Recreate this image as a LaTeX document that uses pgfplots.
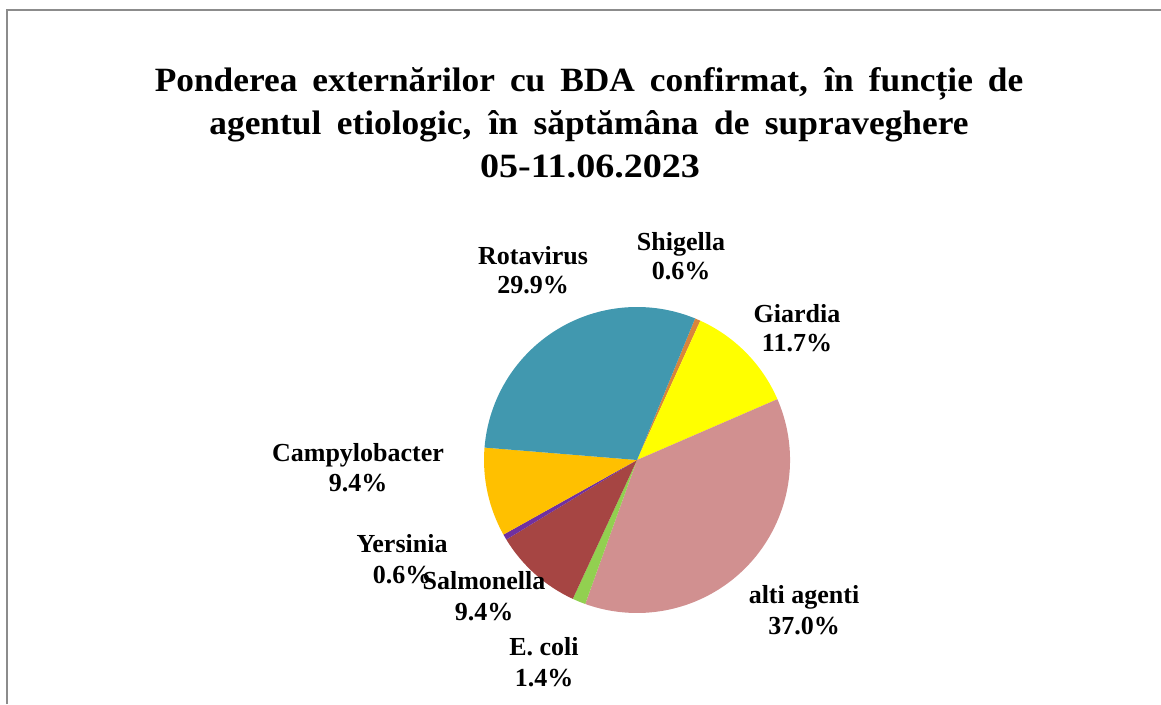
\documentclass[border=0pt]{standalone}
\usepackage{pgfplots}
\pgfplotsset{compat=1.18}
\usepackage{pgfplotstable}
\usepackage{graphicx}
\usepackage{fontspec}
\setmainfont{Liberation Serif}

\definecolor{cRota}{RGB}{65,152,175}
\definecolor{cShig}{RGB}{217,133,59}
\definecolor{cGiar}{RGB}{255,255,0}
\definecolor{cAlti}{RGB}{209,144,144}
\definecolor{cEcoli}{RGB}{146,208,80}
\definecolor{cSalm}{RGB}{166,69,67}
\definecolor{cYers}{RGB}{112,48,160}
\definecolor{cCamp}{RGB}{255,192,0}
\definecolor{cBorder}{RGB}{140,140,140}

\tikzset{
  lab/.style={font=\fontsize{26}{30}\selectfont\bfseries,anchor=base,inner sep=0pt},
  ttl/.style={font=\fontsize{34}{43}\selectfont\bfseries,anchor=base,inner sep=0pt}}

% share of each agent (%), clockwise from the first slice
\pgfplotstableread{
agent value col
Shigella 0.6 cShig
Giardia 11.7 cGiar
alti 37.0 cAlti
Ecoli 1.4 cEcoli
Salmonella 9.4 cSalm
Yersinia 0.6 cYers
Campylobacter 9.4 cCamp
Rotavirus 29.9 cRota
}\piedata

\begin{document}
\begin{tikzpicture}
\begin{axis}[width=1161pt,height=704pt,scale only axis,
  xmin=0,xmax=1161,ymin=0,ymax=704,hide axis,clip=false,anchor=south west,at={(0,0)}]
\pgfplotsextra{%
  \xdef\curang{67.7}%
  \pgfplotsforeachungrouped \i in {0,...,7}{%
    \pgfplotstablegetelem{\i}{value}\of\piedata\let\slval\pgfplotsretval
    \pgfplotstablegetelem{\i}{col}\of\piedata\let\slcol\pgfplotsretval
    \pgfmathsetmacro\nextang{\curang-3.6*\slval}%
    \fill[fill=\slcol] (axis cs:637,244) -- ++(\curang:153pt)
      arc[start angle=\curang,end angle=\nextang,radius=153pt] -- cycle;
    \xdef\curang{\nextang}%
  }%
}
\draw[cBorder,line width=1.5pt] (axis cs:7,0) -- (axis cs:7,694) -- (axis cs:1161,694);

% title
\node[ttl] at (axis cs:589,612) {\scalebox{1.04}[1]{\makebox[835pt][s]{Ponderea externărilor cu BDA confirmat, în funcție de}}};
\node[ttl] at (axis cs:589,569) {\scalebox{1.04}[1]{\makebox[730pt][s]{agentul etiologic, în săptămâna de supraveghere}}};
\node[ttl] at (axis cs:590,526) {\resizebox{220pt}{\height}{05-11.06.2023}};

% labels
\node[lab] at (axis cs:533,439) {Rotavirus};
\node[lab] at (axis cs:533,410) {29.9\%};
\node[lab] at (axis cs:681,453) {Shigella};
\node[lab] at (axis cs:681,424) {0.6\%};
\node[lab] at (axis cs:797,381) {Giardia};
\node[lab] at (axis cs:797,352) {11.7\%};
\node[lab] at (axis cs:358,242) {Campylobacter};
\node[lab] at (axis cs:358,212) {9.4\%};
\node[lab] at (axis cs:402,151) {Yersinia};
\node[lab] at (axis cs:402,121) {0.6\%};
\node[lab] at (axis cs:484,114) {Salmonella};
\node[lab] at (axis cs:484,84) {9.4\%};
\node[lab] at (axis cs:544,49) {E. coli};
\node[lab] at (axis cs:544,18) {1.4\%};
\node[lab] at (axis cs:804,100) {alti agenti};
\node[lab] at (axis cs:804,70) {37.0\%};
\end{axis}
\pgfresetboundingbox
\path[use as bounding box] (0,0) rectangle (1161pt,704pt);
\end{tikzpicture}
\end{document}
